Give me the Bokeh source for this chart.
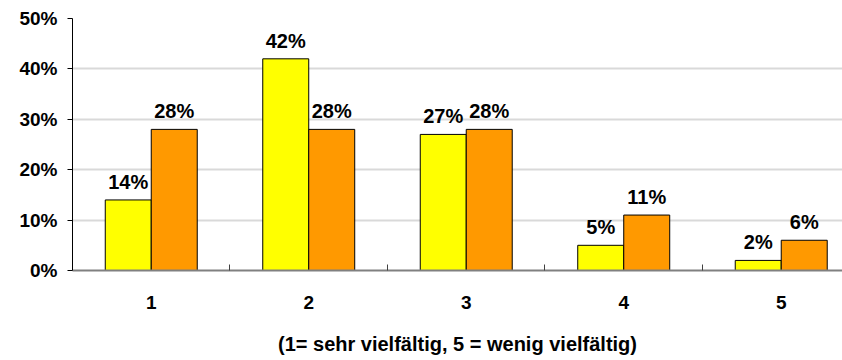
from bokeh.plotting import figure
from bokeh.models import ColumnDataSource, FixedTicker, NumeralTickFormatter
from bokeh.transform import dodge
from bokeh.core.properties import value
from bokeh.embed import file_html
from bokeh.resources import INLINE

cats = [1, 2, 3, 4, 5]
cat_labels = ["1", "2", "3", "4", "5"]
series_a = [0.14, 0.42, 0.27, 0.05, 0.02]
series_b = [0.28, 0.28, 0.28, 0.11, 0.06]
y_ticks = [0.0, 0.1, 0.2, 0.3, 0.4, 0.5]
x_title = "(1= sehr vielfältig, 5 = wenig vielfältig)"

FONT = "Liberation Sans"
BAR_W = 0.292
OFF = BAR_W / 2

src = ColumnDataSource(dict(
    x=cats,
    a=series_a,
    b=series_b,
    ta=[f"{round(v*100)}%" for v in series_a],
    tb=[f"{round(v*100)}%" for v in series_b],
))

p = figure(width=842, height=357, x_range=(0.5, 5.389), y_range=(0, 0.5),
           output_backend="svg", toolbar_location=None,
           min_border_left=72, min_border_right=0, min_border_top=18, min_border_bottom=86)
p.outline_line_color = None
p.background_fill_color = "white"

p.vbar(x=dodge("x", -OFF, range=p.x_range), top="a", width=BAR_W, source=src,
       fill_color="#FFFF00", line_color="black", line_width=1)
p.vbar(x=dodge("x", OFF, range=p.x_range), top="b", width=BAR_W, source=src,
       fill_color="#FF9900", line_color="black", line_width=1)

for col, off in (("ta", -OFF), ("tb", OFF)):
    p.text(x=dodge("x", off, range=p.x_range), y=col[1], text=col, source=src,
           text_align="center", text_baseline="alphabetic", y_offset=-18,
           text_font=value(FONT), text_font_style="bold", text_font_size="20px",
           text_color="black")

# x axis
p.xaxis.ticker = FixedTicker(ticks=cats, minor_ticks=[c + 0.5 for c in cats[:-1]])
p.xaxis.major_label_overrides = {c: l for c, l in zip(cats, cat_labels)}
p.xaxis.major_tick_line_color = None
p.xaxis.major_tick_in = 0
p.xaxis.major_tick_out = 0
p.xaxis.minor_tick_in = 6
p.xaxis.minor_tick_out = 0
p.xaxis.minor_tick_line_color = "#404040"
p.xaxis.axis_line_color = "#808080"
p.xaxis.axis_line_width = 2
p.xaxis.major_label_standoff = 25
p.xaxis.major_label_text_font = FONT
p.xaxis.major_label_text_font_style = "bold"
p.xaxis.major_label_text_font_size = "19px"
p.xaxis.major_label_text_color = "black"
p.xaxis.axis_label = x_title
p.xaxis.axis_label_standoff = 21
p.xaxis.axis_label_text_font = FONT
p.xaxis.axis_label_text_font_style = "bold"
p.xaxis.axis_label_text_font_size = "20px"
p.xaxis.axis_label_text_color = "black"

# y axis
p.yaxis.ticker = FixedTicker(ticks=y_ticks)
p.yaxis.formatter = NumeralTickFormatter(format="0%")
p.yaxis.axis_line_color = "black"
p.yaxis.major_tick_line_color = "black"
p.yaxis.major_tick_in = 0
p.yaxis.major_tick_out = 5
p.yaxis.minor_tick_line_color = None
p.yaxis.major_label_standoff = 10
p.yaxis.major_label_text_font = FONT
p.yaxis.major_label_text_font_style = "bold"
p.yaxis.major_label_text_font_size = "19px"
p.yaxis.major_label_text_color = "black"

p.xgrid.grid_line_color = None
p.ygrid.grid_line_color = "#d9d9d9"
p.ygrid.grid_line_width = 2

open("out.html", "w").write(file_html(p, INLINE))
